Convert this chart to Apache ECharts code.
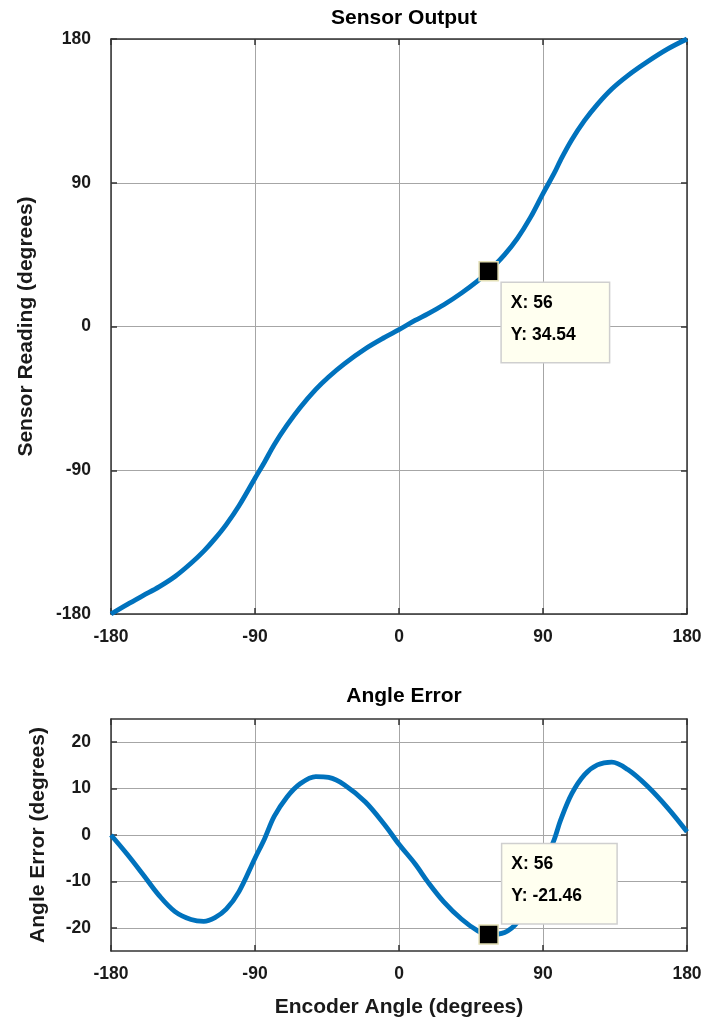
<!DOCTYPE html>
<html>
<head>
<meta charset="utf-8">
<script src="https://cdn.jsdelivr.net/npm/echarts@6/dist/echarts.min.js"></script>
<style>
html,body{margin:0;padding:0;background:#fff;}
#chart{width:711px;height:1027px;}
</style>
</head>
<body>
<div id="chart"></div>
<script>
// Encoder angle samples (degrees)
const encoderAngle = [-180,-170,-160,-150,-140,-130,-122,-115,-108,-100,-90,-84,-78,-70,-62,-52,-44,-34,-21,-9,0,10,18,28,39,49,56,66,74,82,90,97,101,108,116,124,133,143,155,168,180];
// Sensor reading (degrees)
const sensorReading = [-180,-174.1,-168.5,-163.0,-156.5,-148.2,-140.6,-132.8,-124.0,-112.2,-95.0,-84.8,-74.0,-61.8,-51.0,-39.4,-31.6,-23.2,-13.9,-6.8,-2.0,3.8,7.9,13.6,20.9,28.4,34.54,45.0,55.2,68.0,83.2,96.0,104.2,116.9,129.0,139.1,148.7,157.1,165.6,173.8,180];
// Angle error (degrees)
const angleError = [0,-4.1,-8.5,-13.0,-16.5,-18.2,-18.6,-17.8,-16.0,-12.2,-5.0,-0.8,4.0,8.2,11.0,12.6,12.4,10.8,7.1,2.2,-2.0,-6.2,-10.1,-14.4,-18.1,-20.6,-21.46,-21.0,-18.8,-14.0,-6.8,-1.0,3.2,8.9,13.0,15.1,15.7,14.1,10.6,5.8,0.7];
// Data cursor
const cursorX = 56;
const cursorSensor = 34.54;
const cursorError = -21.46;
// Axis ranges / ticks
const xTicks = [-180,-90,0,90,180];
const sensorTicks = [-180,-90,0,90,180];
const errorTicks = [-20,-10,0,10,20];

const FONT = '"Liberation Sans", Arial, Helvetica, sans-serif';
const TXT = '#1a1a1a';
const BLUE = '#0072BD';

const chart = echarts.init(document.getElementById('chart'), null, {renderer:'canvas'});

function axisBase(extra){
  return Object.assign({
    axisLine:{show:true, onZero:false, lineStyle:{color:'#333', width:1.5}},
    axisTick:{show:true, inside:true, length:6, lineStyle:{color:'#333', width:1.5}},
    splitLine:{show:false},
    axisLabel:{show:false}
  }, extra);
}
const labelStyle = {show:true, color:TXT, fontFamily:FONT, fontWeight:'bold', fontSize:17.5};
const gridLine = {show:true, lineStyle:{color:'#a6a6a6', width:1}};

const pairs1 = encoderAngle.map((x,i)=>[x, sensorReading[i]]);
const pairs2 = encoderAngle.map((x,i)=>[x, angleError[i]]);

function cursorLabel(txtX, txtY, pos, w){
  return {
    show:true,
    position:pos,
    align:'left',
    verticalAlign:'top',
    formatter:'X: '+txtX+'\nY: '+txtY,
    color:'#000',
    opacity:1,
    fontFamily:FONT,
    fontWeight:'bold',
    fontSize:17.5,
    lineHeight:32,
    width:w,
    backgroundColor:'#FFFFF0',
    borderColor:'#cfcfcf',
    borderWidth:1.5,
    padding:[4,8,11,9]
  };
}

const option = {
  backgroundColor:'#fff',
  animation:false,
  title:[
    {text:'Sensor Output', left:399, textAlign:'center', top:3, textStyle:{fontFamily:FONT, fontWeight:'bold', fontSize:21, color:'#000'}},
    {text:'Angle Error', left:399, textAlign:'center', top:681, textStyle:{fontFamily:FONT, fontWeight:'bold', fontSize:21, color:'#000'}}
  ],
  grid:[
    {left:111, right:24, top:39, height:575},
    {left:111, right:24, top:719, height:232}
  ],
  xAxis:[
    axisBase({gridIndex:0, type:'value', min:-180, max:180, interval:90, position:'bottom',
      axisLabel:Object.assign({}, labelStyle, {margin:14}), splitLine:gridLine}),
    axisBase({gridIndex:0, type:'value', min:-180, max:180, interval:90, position:'top'}),
    axisBase({gridIndex:1, type:'value', min:-180, max:180, interval:90, position:'bottom',
      axisLabel:Object.assign({}, labelStyle, {margin:14}), splitLine:gridLine,
      name:'Encoder Angle (degrees)', nameLocation:'middle', nameGap:46,
      nameTextStyle:{fontFamily:FONT, fontWeight:'bold', fontSize:21, color:TXT}}),
    axisBase({gridIndex:1, type:'value', min:-180, max:180, interval:90, position:'top'})
  ],
  yAxis:[
    axisBase({gridIndex:0, type:'value', min:-180, max:180, interval:90, position:'left',
      axisLabel:Object.assign({}, labelStyle, {margin:20}), splitLine:gridLine,
      name:'Sensor Reading (degrees)', nameLocation:'middle', nameGap:74,
      nameTextStyle:{fontFamily:FONT, fontWeight:'bold', fontSize:21, color:TXT}}),
    axisBase({gridIndex:0, type:'value', min:-180, max:180, interval:90, position:'right'}),
    axisBase({gridIndex:1, type:'value', min:-25, max:25, interval:10, position:'left',
      axisLabel:Object.assign({}, labelStyle, {margin:20, customValues:errorTicks}),
      axisTick:{show:true, inside:true, length:6, customValues:errorTicks, lineStyle:{color:'#333', width:1.5}},
      splitLine:gridLine,
      name:'Angle Error (degrees)', nameLocation:'middle', nameGap:62,
      nameTextStyle:{fontFamily:FONT, fontWeight:'bold', fontSize:21, color:TXT}}),
    axisBase({gridIndex:1, type:'value', min:-25, max:25, interval:10, position:'right',
      axisTick:{show:true, inside:true, length:6, customValues:errorTicks, lineStyle:{color:'#333', width:1.5}}})
  ],
  series:[
    {type:'line', xAxisIndex:0, yAxisIndex:0, data:pairs1, showSymbol:false, smooth:0.35, clip:true,
      lineStyle:{color:BLUE, width:4.8}, z:2},
    {type:'line', xAxisIndex:2, yAxisIndex:2, data:pairs2, showSymbol:false, smooth:0.35, clip:true,
      lineStyle:{color:BLUE, width:4.8}, z:2},
    {type:'scatter', xAxisIndex:0, yAxisIndex:0, data:[[cursorX, cursorSensor]], symbol:'rect', symbolSize:19,
      itemStyle:{color:'#000', opacity:1, borderColor:'#e3dfb5', borderWidth:1.5}, z:5,
      label:cursorLabel(cursorX, cursorSensor.toFixed(2), [23.5, 22], 90)},
    {type:'scatter', xAxisIndex:2, yAxisIndex:2, data:[[cursorX, cursorError]], symbol:'rect', symbolSize:19,
      itemStyle:{color:'#000', opacity:1, borderColor:'#e3dfb5', borderWidth:1.5}, z:5,
      label:cursorLabel(cursorX, cursorError.toFixed(2), [24, -80], 97)}
  ]
};
chart.setOption(option);
</script>
</body>
</html>
